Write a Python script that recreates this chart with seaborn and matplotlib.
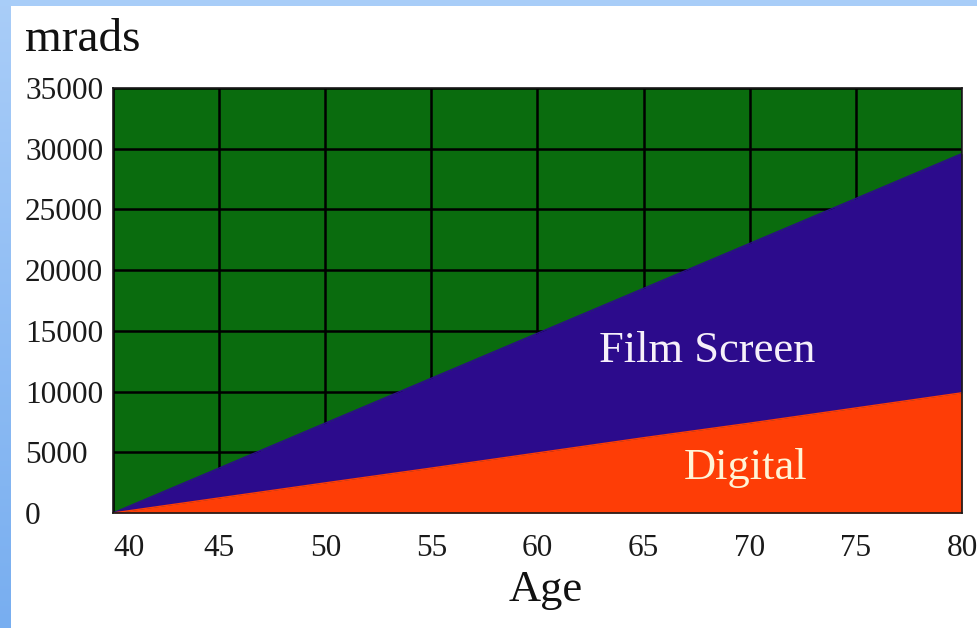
import numpy as np
import pandas as pd
import matplotlib
matplotlib.use("Agg")
import matplotlib.pyplot as plt
import matplotlib.transforms as mtransforms
from matplotlib.patches import Rectangle
import seaborn as sns

# Cumulative radiation dose by age
ages = [40, 45, 50, 55, 60, 65, 70, 75, 80]
film_screen = [0, 3700, 7400, 11100, 14800, 18500, 22200, 25900, 29600]
digital = [0, 1240, 2480, 3700, 4950, 6200, 7400, 8650, 9900]
x_ticks = [40, 45, 50, 55, 60, 65, 70, 75, 80]
y_ticks = [0, 5000, 10000, 15000, 20000, 25000, 30000, 35000]

df = pd.DataFrame({"Age": ages, "Film Screen": film_screen, "Digital": digital})

sns.set_theme(style="white")
plt.rcParams["font.family"] = ["Liberation Serif", "DejaVu Serif"]

GREEN = "#0a6c0e"
BLUE = "#2c0b8c"
RED = "#fe3d06"

fig = plt.figure(figsize=(9.78, 6.28), dpi=100)
fig.patch.set_facecolor("white")

# light-blue frame strips along the top and left edges
fig.patches.append(Rectangle((0, 1 - 6 / 628), 1, 6 / 628, transform=fig.transFigure,
                             facecolor="#a8cdf8", edgecolor="none", zorder=0))
grad = np.linspace(0, 1, 256).reshape(-1, 1)
strip = fig.add_axes([0, 0, 11 / 978, 1])
strip.imshow(grad, aspect="auto", extent=[0, 1, 0, 1], origin="upper",
             cmap=matplotlib.colors.LinearSegmentedColormap.from_list(
                 "edge", ["#a9cdf8", "#78aef0"]))
strip.axis("off")

ax = fig.add_axes([113 / 978, 1 - 513 / 628, (962 - 113) / 978, (513 - 88) / 628])
ax.set_facecolor(GREEN)

ax.fill_between(df["Age"], df["Digital"], df["Film Screen"], color=BLUE, linewidth=0, zorder=3)
ax.fill_between(df["Age"], 0, df["Digital"], color=RED, linewidth=0, zorder=4)
sns.lineplot(data=df, x="Age", y="Film Screen", ax=ax, color=BLUE, linewidth=1, zorder=5)
sns.lineplot(data=df, x="Age", y="Digital", ax=ax, color=RED, linewidth=1, zorder=5)

ax.set_xlim(40, 80)
ax.set_ylim(0, 35000)
ax.set_xticks(x_ticks)
ax.set_yticks(y_ticks)
ax.grid(True, color="black", linewidth=1.8, zorder=2)
ax.set_axisbelow(True)
for s in ax.spines.values():
    s.set_visible(True)
    s.set_color("#1a1a1a")
    s.set_linewidth(1.2)
    s.set_zorder(6)

ax.set_xticklabels([str(v) for v in x_ticks], fontsize=22.5, color="#1a1a1a")
ax.set_yticklabels([str(v) for v in y_ticks], fontsize=22.5, color="#1a1a1a")
ax.tick_params(axis="x", length=0, pad=15)
ax.tick_params(axis="y", length=0, pad=0)
# y labels sit flush at the left margin
for lbl in ax.get_yticklabels():
    lbl.set_horizontalalignment("left")
    lbl.set_transform(mtransforms.blended_transform_factory(fig.transFigure, ax.transData))
    lbl.set_x(25 / 978)
# first age label starts at the plot edge
first = ax.get_xticklabels()[0]
first.set_horizontalalignment("left")

ax.set_xlabel("Age", fontsize=32, color="#111111")
ax.xaxis.set_label_coords((546 - 113) / 849, -0.135)
ax.set_ylabel("")
fig.text(25 / 978, 1 - 40 / 628, "mrads", fontsize=34, color="#111111",
         ha="left", va="center")

ax.text(68.0, 13300, "Film Screen", fontsize=32, color="#f6f0fa",
        ha="center", va="center", zorder=7)
ax.text(69.8, 3700, "Digital", fontsize=32, color="#fff4d6",
        ha="center", va="center", zorder=7)

fig.savefig("out.png", dpi=100, facecolor="white")
